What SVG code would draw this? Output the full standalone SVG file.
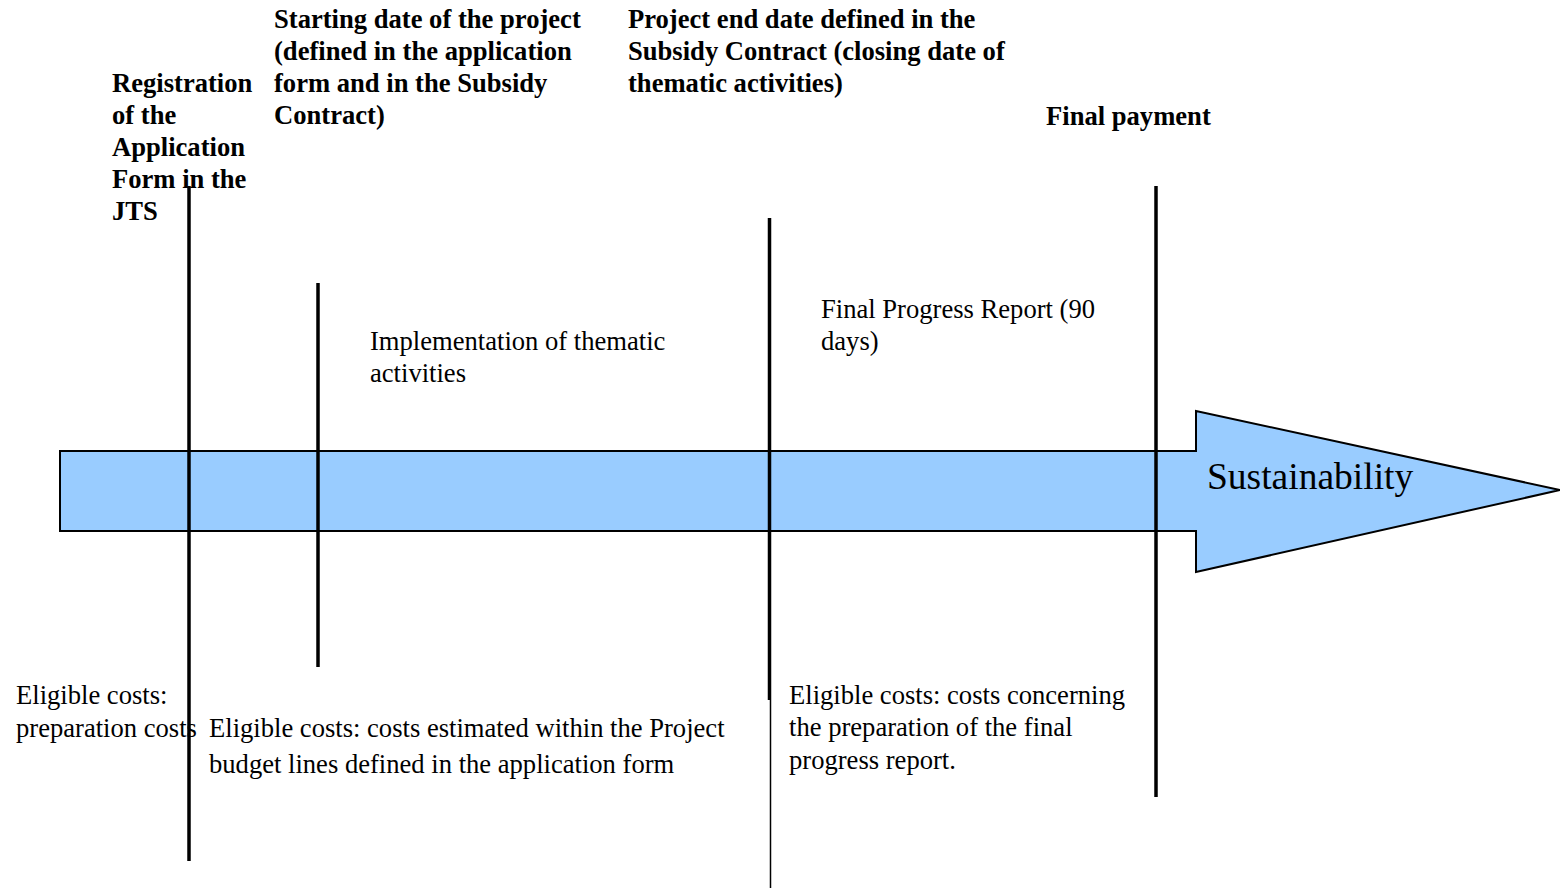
<svg xmlns="http://www.w3.org/2000/svg" width="1560" height="888" viewBox="0 0 1560 888">
<style>
.b{font-family:"Liberation Serif","Times New Roman",serif;font-weight:bold;font-size:26.6px;fill:#000}
.n{font-family:"Liberation Serif","Times New Roman",serif;font-size:26.6px;fill:#000}
.s{font-family:"Liberation Serif","Times New Roman",serif;font-size:37.5px;fill:#000}
.v{stroke:#000;stroke-width:3.5;fill:none}
</style>
<rect width="1560" height="888" fill="#fff"/>
<g id="arrow">
<path d="M60,451 L1196,451 L1196,411 L1560,490 L1196,572 L1196,531 L60,531 Z" fill="#99CCFF" stroke="#000" stroke-width="2"/>
<text class="s" x="1207" y="489">Sustainability</text>
</g>
<g id="connectors">
<line class="v" x1="189" y1="186" x2="189" y2="861"/>
<line class="v" x1="318" y1="283" x2="318" y2="667"/>
<line class="v" x1="769.5" y1="218" x2="769.5" y2="700"/>
<line stroke="#000" stroke-width="1.5" x1="770.5" y1="700" x2="770.5" y2="888"/>
<line class="v" x1="1156" y1="186" x2="1156" y2="797"/>
</g>
<g id="registration">
<text class="b" x="112" y="92">Registration</text>
<text class="b" x="112" y="124">of the</text>
<text class="b" x="112" y="156">Application</text>
<text class="b" x="112" y="188">Form in the</text>
<text class="b" x="112" y="220">JTS</text>
</g>
<g id="start">
<text class="b" x="274" y="28">Starting date of the project</text>
<text class="b" x="274" y="60">(defined in the application</text>
<text class="b" x="274" y="92">form and in the Subsidy</text>
<text class="b" x="274" y="124">Contract)</text>
</g>
<g id="end">
<text class="b" x="628" y="28">Project end date defined in the</text>
<text class="b" x="628" y="60">Subsidy Contract (closing date of</text>
<text class="b" x="628" y="92">thematic activities)</text>
</g>
<g id="final">
<text class="b" x="1046" y="125">Final payment</text>
</g>
<g id="implementation">
<text class="n" x="370" y="350">Implementation of thematic</text>
<text class="n" x="370" y="382">activities</text>
</g>
<g id="report">
<text class="n" x="821" y="318">Final Progress Report (90</text>
<text class="n" x="821" y="350">days)</text>
</g>
<g id="prep">
<text class="n" x="16" y="704">Eligible costs:</text>
<text class="n" x="16" y="737">preparation costs</text>
</g>
<g id="budget">
<text class="n" x="209" y="737">Eligible costs: costs estimated within the Project</text>
<text class="n" x="209" y="773">budget lines defined in the application form</text>
</g>
<g id="finalcosts">
<text class="n" x="789" y="704">Eligible costs: costs concerning</text>
<text class="n" x="789" y="736">the preparation of the final</text>
<text class="n" x="789" y="769">progress report.</text>
</g>
</svg>
